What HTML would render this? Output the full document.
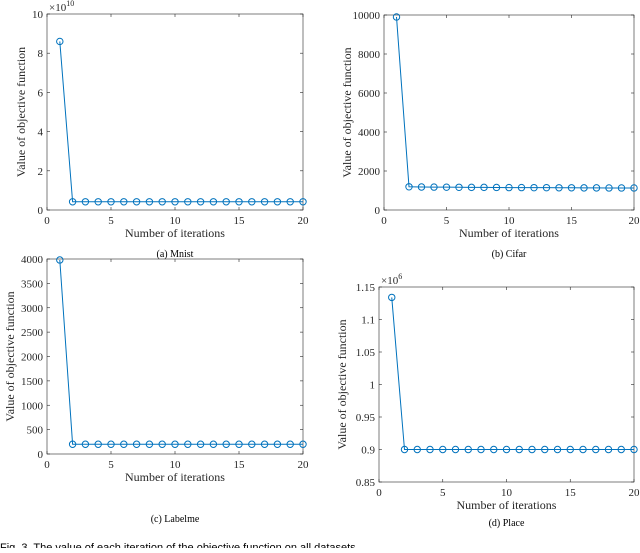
<!DOCTYPE html>
<html><head><meta charset="utf-8"><style>
body{margin:0;background:#fff;width:640px;height:548px;overflow:hidden;}
svg{font-family:"Liberation Serif",serif;}
</style></head><body>
<svg id="fig" width="640" height="548"></svg>
<script>
const iterations=[1,2,3,4,5,6,7,8,9,10,11,12,13,14,15,16,17,18,19,20];
const mnistValues=[8.6,0.42,0.42,0.42,0.42,0.42,0.42,0.42,0.42,0.42,0.42,0.42,0.42,0.42,0.42,0.42,0.42,0.42,0.42,0.42];
const cifarValues=[9900,1190,1180,1175,1170,1165,1160,1160,1155,1150,1150,1145,1145,1140,1140,1135,1135,1130,1130,1130];
const labelmeValues=[3980,200,200,200,200,200,200,200,200,200,200,200,200,200,200,200,200,200,200,200];
const placeValues=[1.134,0.9,0.9,0.9,0.9,0.9,0.9,0.9,0.9,0.9,0.9,0.9,0.9,0.9,0.9,0.9,0.9,0.9,0.9,0.9];
const xTicks=[0,5,10,15,20];
const mnistTicks=[0,2,4,6,8,10];
const cifarTicks=[0,2000,4000,6000,8000,10000];
const labelmeTicks=[0,500,1000,1500,2000,2500,3000,3500,4000];
const placeTicks=[0.85,0.9,0.95,1,1.05,1.1,1.15];
const NS="http://www.w3.org/2000/svg";
const svg=document.getElementById('fig');
function mk(tag,attrs,parent,text){const e=document.createElementNS(NS,tag);for(const k in attrs)e.setAttribute(k,attrs[k]);if(text!==undefined)e.textContent=text;(parent||svg).appendChild(e);return e;}
function panel(name,box,ticks,vals,exp,caption,capY,tickLabels){
  const g=mk('g',{});
  
  
  const [x0,y0,x1,y1]=box;const ymin=ticks[0],ymax=ticks[ticks.length-1];
  const sx=v=>x0+(v-0)/(20-0)*(x1-x0);
  const sy=v=>y1-(v-ymin)/(ymax-ymin)*(y1-y0);
  const frame=mk('rect',{x:x0,y:y0,width:x1-x0,height:y1-y0,fill:'none',stroke:'#262626','stroke-width':0.6},g);
  
  
  xTicks.forEach(t=>{const x=sx(t);
    mk('line',{x1:x,x2:x,y1:y1,y2:y1-3,stroke:'#262626','stroke-width':0.6},g);
    mk('line',{x1:x,x2:x,y1:y0,y2:y0+3,stroke:'#262626','stroke-width':0.6},g);
    const tl=mk('text',{x:x,y:y1+14,'text-anchor':'middle','font-size':11,fill:'#262626'},g,t);
    
    });
  ticks.forEach((t,i)=>{const y=sy(t);
    mk('line',{x1:x0,x2:x0+3,y1:y,y2:y,stroke:'#262626','stroke-width':0.6},g);
    mk('line',{x1:x1,x2:x1-3,y1:y,y2:y,stroke:'#262626','stroke-width':0.6},g);
    const tl=mk('text',{x:x0-4,y:y+4,'text-anchor':'end','font-size':11,fill:'#262626'},g,tickLabels[i]);
    
    });
  if(exp){const e=mk('text',{x:x0+2,y:y0-3,'font-size':11,fill:'#262626'},g);
    
    
    mk('tspan',{},e,'×10');mk('tspan',{dy:-5,'font-size':8},e,exp);}
  const xl=mk('text',{x:(x0+x1)/2,y:y1+27,'text-anchor':'middle','font-size':12,fill:'#262626'},g,'Number of iterations');
  
  
  const cy=(y0+y1)/2,cx=x0-(tickLabels[tickLabels.length-1].length>3?33:22);
  const yl=mk('text',{x:cx,y:cy,'text-anchor':'middle','font-size':12,fill:'#262626',transform:`rotate(-90 ${cx} ${cy})`},g,'Value of objective function');
  
  
  const pts=iterations.map((it,i)=>sx(it)+','+sy(vals[i])).join(' ');
  const line=mk('polyline',{points:pts,fill:'none',stroke:'#0072BD','stroke-width':1},g);
  
  
  iterations.forEach((it,i)=>{const c=mk('circle',{cx:sx(it),cy:sy(vals[i]),r:3.2,fill:'none',stroke:'#0072BD','stroke-width':1},g);
    
    });
  const cap=mk('text',{x:(x0+x1)/2,y:capY,'text-anchor':'middle','font-size':10,fill:'#000'},g,caption);
  
  
}
panel('mnist',[47,14,303,210],mnistTicks,mnistValues,'10','(a) Mnist',257,mnistTicks.map(String));
panel('cifar',[384,15,634,210],cifarTicks,cifarValues,null,'(b) Cifar',257,cifarTicks.map(String));
panel('labelme',[47,259,303,454],labelmeTicks,labelmeValues,null,'(c) Labelme',522,labelmeTicks.map(String));
panel('place',[379,287,634,482],placeTicks,placeValues,'6','(d) Place',526,placeTicks.map(String));
const fc=mk('text',{x:0,y:551,'font-size':11,fill:'#000','font-family':'Liberation Sans, sans-serif'},svg,'Fig. 3. The value of each iteration of the objective function on all datasets');


</script>
</body></html>
